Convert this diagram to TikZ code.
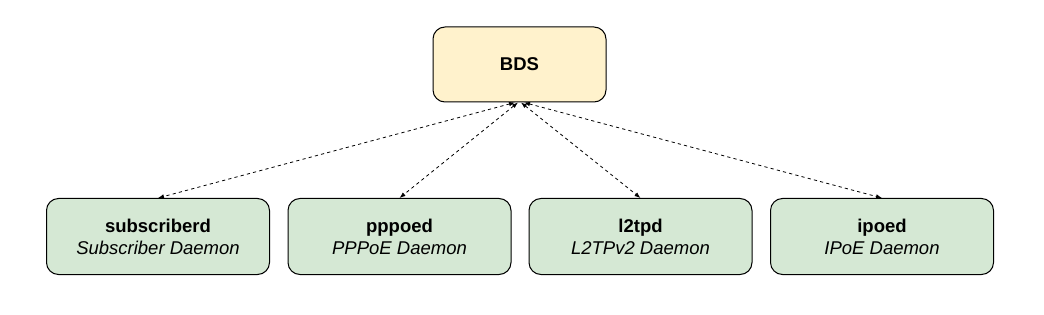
\documentclass[tikz,border=0pt]{standalone}
\usepackage{fontspec}
\setmainfont{Liberation Sans}
\usetikzlibrary{arrows.meta}
\begin{document}
\begin{tikzpicture}[x=1pt,y=-1pt,
  box/.style={draw=black, line width=1pt, rounded corners=12pt, minimum width=223pt, minimum height=76pt, align=center, font=\fontsize{18.5}{22}\selectfont, inner sep=0pt},
  green/.style={box, fill=greenfill},
  conn/.style={draw=black, line width=0.8pt, dash pattern=on 3.2pt off 3.2pt, {Latex[length=6pt,width=4.5pt]}-{Latex[length=6pt,width=4.5pt]}}
]
\definecolor{greenfill}{HTML}{D5E8D4}
\definecolor{yellowfill}{HTML}{FFF2CC}
\path[use as bounding box] (0,0) rectangle (1044,315);
\node[box, fill=yellowfill, minimum width=173pt, minimum height=75pt] (bds) at (519.5,64.5) {\textbf{BDS}};
\node[green] (sub) at (158,236.5) {\textbf{subscriberd}\\\textit{Subscriber Daemon}};
\node[green] (ppp) at (399.5,236.5) {\textbf{pppoed}\\\textit{PPPoE Daemon}};
\node[green] (l2t) at (640.5,236.5) {\textbf{l2tpd}\\\textit{L2TPv2 Daemon}};
\node[green] (ipo) at (882,236.5) {\textbf{ipoed}\\\textit{IPoE Daemon}};
\draw[conn] ([xshift=-4.5pt]bds.south) -- (sub.north);
\draw[conn] ([xshift=-1.5pt]bds.south) -- (ppp.north);
\draw[conn] ([xshift=1.5pt]bds.south) -- (l2t.north);
\draw[conn] ([xshift=4.5pt]bds.south) -- (ipo.north);
\end{tikzpicture}
\end{document}
